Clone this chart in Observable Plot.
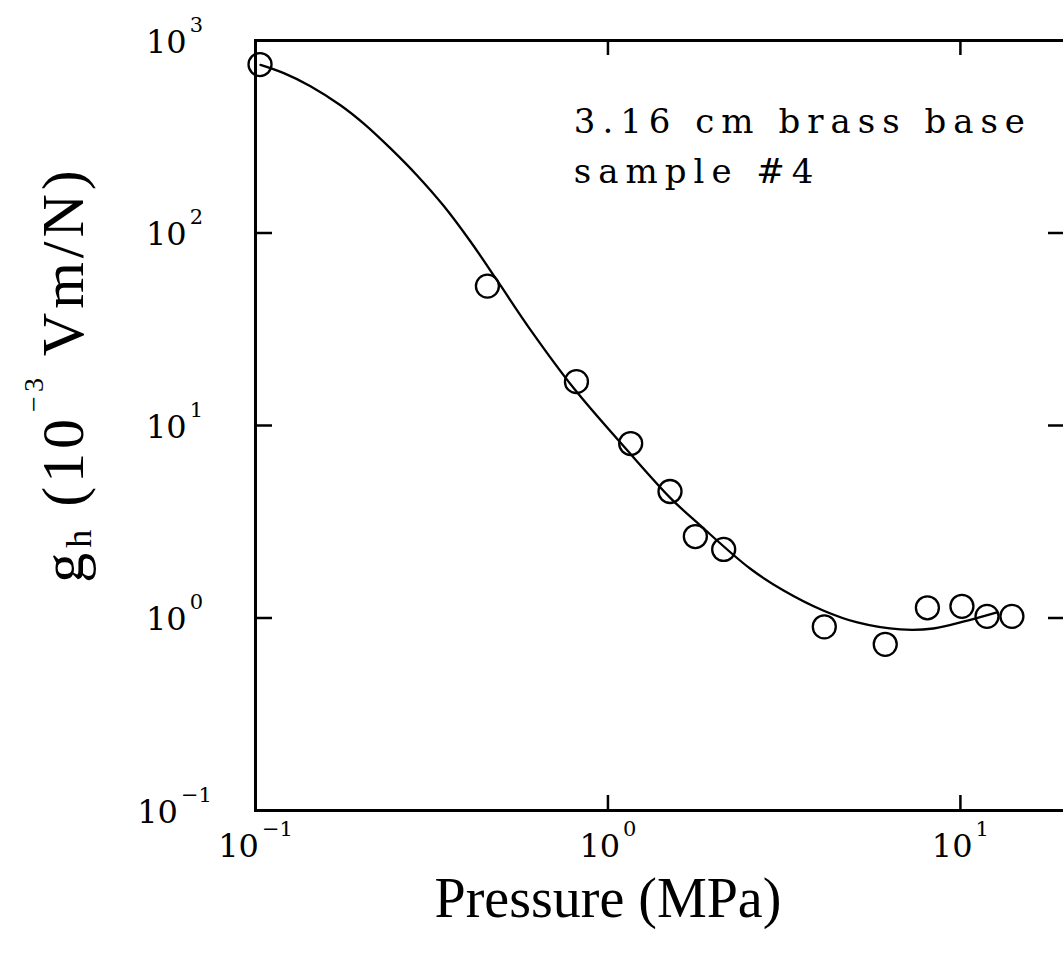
<!DOCTYPE html>
<html><head><meta charset="utf-8">
<script src="https://cdn.jsdelivr.net/npm/d3@7"></script>
<script src="https://cdn.jsdelivr.net/npm/@observablehq/plot@0.6"></script>
<style>
html,body{margin:0;padding:0;background:#fff;overflow:hidden;}
</style></head><body><div id="chart"></div>
<script>
// Measured data points (pressure in MPa, g_h in 10^-3 Vm/N)
const pressure = [0.103, 0.455, 0.814, 1.16, 1.50, 1.77, 2.13, 4.11, 6.12, 8.06, 10.1, 11.9, 14.0];
const gh = [750, 53, 16.9, 8.06, 4.54, 2.65, 2.27, 0.90, 0.73, 1.13, 1.15, 1.02, 1.02];

// Fitted curve
const fitPressure = [0.1033, 0.1203, 0.1432, 0.1742, 0.2029, 0.2416, 0.2874, 0.3422, 0.4073, 0.4849, 0.6029, 0.798, 1.136, 1.50, 1.83, 2.53, 3.15, 4.08, 5.10, 6.76, 8.38, 10.47, 12.7];
const fitGh = [747, 677, 579, 461, 370, 275, 199, 138, 90.3, 56.7, 31.4, 15.7, 7.41, 4.22, 3.02, 1.807, 1.39, 1.094, 0.948, 0.872, 0.882, 0.970, 1.07];

// Axes
const xDomain = [0.1, 20];
const yDomain = [0.1, 1000];
const xTickValues = [0.1, 1, 10];
const yTickValues = [0.1, 1, 10, 100, 1000];
const xInnerTicks = [1, 10];
const yInnerTicks = [1, 10, 100];
const xLabel = "Pressure (MPa)";
const yLabel = "g_{h} (10^{−3} Vm/N)";

// Annotation
const noteLines = ["3.16 cm brass base", "sample #4"];
const notePressure = [0.8, 0.8];
const noteGh = [332, 181];

const points = pressure.map((p, i) => ({p, g: gh[i]}));
const fit = fitPressure.map((p, i) => ({p, g: fitGh[i]}));
const notes = noteLines.map((t, i) => ({t, p: notePressure[i], g: noteGh[i]}));

function expLabel(v) {
  const e = Math.round(Math.log10(v));
  return "10^{" + (e < 0 ? "−" + (-e) : String(e)) + "}";
}

const serif = "DejaVu Serif";
const labelFont = "Liberation Serif";

const plot = Plot.plot({
  width: 1080,
  height: 957,
  marginLeft: 255,
  marginRight: 14,
  marginTop: 40,
  marginBottom: 147,
  style: {maxWidth: "none", background: "white", color: "black", overflow: "visible"},
  x: {type: "log", domain: xDomain, axis: null},
  y: {type: "log", domain: yDomain, axis: null},
  marks: [
    Plot.frame({stroke: "black", strokeWidth: 3}),
    // inward ticks
    Plot.ruleX(xInnerTicks, {x: d => d, y1: yDomain[0], y2: yDomain[0], insetTop: -15, stroke: "black", strokeWidth: 2.5}),
    Plot.ruleX(xInnerTicks, {x: d => d, y1: yDomain[1], y2: yDomain[1], insetBottom: -15, stroke: "black", strokeWidth: 2.5}),
    Plot.ruleY(yInnerTicks, {y: d => d, x1: xDomain[0], x2: xDomain[0], insetRight: -17, stroke: "black", strokeWidth: 2.5}),
    Plot.ruleY(yInnerTicks, {y: d => d, x1: xDomain[1], x2: xDomain[1], insetLeft: -18, stroke: "black", strokeWidth: 2.5}),
    // fit curve
    Plot.line(fit, {x: "p", y: "g", curve: "catmull-rom", stroke: "black", strokeWidth: 2.3}),
    // data
    Plot.dot(points, {x: "p", y: "g", r: 11.5, stroke: "black", strokeWidth: 2.3, fill: "none"}),
    // tick labels
    Plot.text(xTickValues, {x: d => d, y: yDomain[0], text: expLabel, dy: 46, lineAnchor: "bottom", textAnchor: "middle", fontSize: 32, fill: "black"}),
    Plot.text(yTickValues, {x: xDomain[0], y: d => d, text: expLabel, dx: -81, dy: 12, lineAnchor: "bottom", textAnchor: "middle", fontSize: 32, fill: "black"}),
    // axis labels
    Plot.text([xLabel], {x: 1, y: yDomain[0], text: d => d, dy: 106, lineAnchor: "bottom", textAnchor: "middle", fontSize: 56, fill: "black"}),
    Plot.text([yLabel], {x: xDomain[0], y: 18.4, text: d => d, rotate: -90, dx: -173, lineAnchor: "bottom", textAnchor: "middle", fontSize: 60, fill: "black"}),
    // annotation
    Plot.text(notes, {x: "p", y: "g", text: "t", lineAnchor: "bottom", textAnchor: "start", fontSize: 34, fill: "black"})
  ]
});

function richText(textEl, supSize, supShift, subSize, subShift) {
  const s = textEl.textContent;
  if (!/[\^_]\{/.test(s)) return;
  const parts = [];
  const re = /([\^_])\{([^}]*)\}/g;
  let last = 0, m;
  while ((m = re.exec(s))) {
    if (m.index > last) parts.push({t: s.slice(last, m.index), k: "n"});
    parts.push({t: m[2], k: m[1] === "^" ? "sup" : "sub"});
    last = re.lastIndex;
  }
  if (last < s.length) parts.push({t: s.slice(last), k: "n"});
  const sel = d3.select(textEl);
  sel.text(null);
  let cur = 0;
  for (const p of parts) {
    const target = p.k === "sup" ? -supShift : p.k === "sub" ? subShift : 0;
    const ts = sel.append("tspan").text(p.t);
    if (target !== cur) { ts.attr("dy", target - cur); cur = target; }
    if (p.k === "sup") ts.style("font-size", supSize + "px").attr("dx", 3);
    if (p.k === "sub") ts.style("font-size", subSize + "px").attr("dx", 1);
  }
}

d3.select(plot).selectAll("text").each(function () {
  const s = this.textContent;
  if (s.startsWith("10^{")) {
    this.style.fontFamily = serif;
    this.style.fontSize = "32px";
    richText(this, 21, 21, 21, 0);
  } else if (s === yLabel) {
    this.style.fontFamily = labelFont;
    this.style.fontSize = "60px";
    richText(this, 28, 40, 36, 8);
    this.style.letterSpacing = "4px";
  } else if (s === xLabel) {
    this.style.fontFamily = labelFont;
    this.style.fontSize = "56px";
  } else if (noteLines.includes(s)) {
    this.style.fontFamily = serif;
    this.style.fontSize = "34px";
    this.style.letterSpacing = "7px";
  }
});

document.getElementById("chart").appendChild(plot);
</script>
</body></html>
